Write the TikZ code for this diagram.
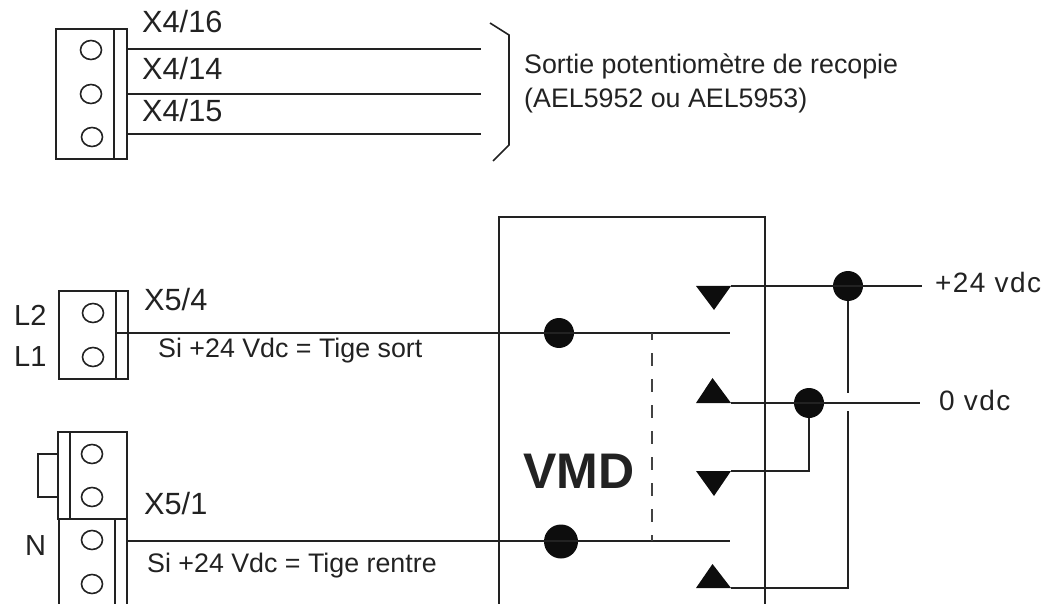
\documentclass[tikz,border=0pt]{standalone}
\usepackage{fontspec}
\setmainfont{Liberation Sans}
\newfontfamily\spaced[LetterSpace=5]{Liberation Sans}
\definecolor{ink}{HTML}{222222}
\tikzset{
  wire/.style={draw=ink,line width=1.6pt},
  screw/.style={draw=ink,line width=1.6pt,ellipse,minimum width=21pt,minimum height=19pt,inner sep=0pt},
  dot/.style={fill=black!95,circle,inner sep=0pt},
  big/.style={inner sep=0pt,anchor=base west,text=ink,font=\fontsize{30.7}{30.7}\selectfont},
  small/.style={inner sep=0pt,anchor=base west,text=ink,font=\fontsize{26.8}{26.8}\selectfont},
  side/.style={inner sep=0pt,anchor=base west,text=ink,font=\fontsize{29}{29}\selectfont},
  rail/.style={inner sep=0pt,anchor=base west,text=ink,font=\spaced\fontsize{28}{28}\selectfont}
}
\usetikzlibrary{shapes.geometric}
\begin{document}
\begin{tikzpicture}[x=1pt,y=-1pt]
      \useasboundingbox (0,0) rectangle (1050,604);
      % terminal blocks
      \draw[wire] (56,29) rectangle (127,159);
      \draw[wire] (114,29) -- (114,159);
      \draw[wire] (59,291) rectangle (128,379);
      \draw[wire] (116,291) -- (116,379);
      \draw[wire] (58,432) rectangle (127,519);
      \draw[wire] (70,432) -- (70,519);
      \draw[wire] (59,604) -- (59,519) -- (127,519) -- (127,604);
      \draw[wire] (115,519) -- (115,604);
      \draw[wire] (58,454) -- (38,454) -- (38,497) -- (58,497);
      \draw
        (91,50) node[screw] (s1){}
        (91,94) node[screw] (s2){}
        (92,137) node[screw] (s3){}
        (93,313) node[screw] (s4){}
        (93,357) node[screw] (s5){}
        (92,454) node[screw] (s6){}
        (92,497) node[screw] (s7){}
        (92,540) node[screw] (s8){}
        (92,584) node[screw] (s9){};
      % box
      \draw[wire] (499,604) -- (499,217) -- (765,217) -- (765,604);
      \coordinate (a0) at (127,49);
      \coordinate (a1) at (481,49);
      \coordinate (b0) at (127,94);
      \coordinate (b1) at (481,94);
      \coordinate (c0) at (127,134);
      \coordinate (c1) at (481,134);
      \coordinate (d0) at (116,333);
      \coordinate (d1) at (730,333);
      \coordinate (e0) at (127,541);
      \coordinate (e1) at (730,541);
      \coordinate (f0) at (652,333);
      \coordinate (f1) at (652,541);
      \coordinate (p0) at (731,286);
      \coordinate (p1) at (922,286);
      \coordinate (n0) at (731,403);
      \coordinate (n1) at (920,403);
      \coordinate (q0) at (731,471);
      \coordinate (r0) at (731,588);
      \coordinate (g0) at (848,393);
      \coordinate (g1) at (848,411);
      \coordinate (g2) at (848,588);
      \coordinate (h0) at (809,471);
      \node[dot,minimum size=30pt] (dotd) at (559,333) {};
      \node[dot,minimum size=34pt] (dote) at (561,541.5) {};
      \node[dot,minimum size=30pt] (dotp) at (848,286) {};
      \node[dot,minimum size=30pt] (dotn) at (809,403) {};
      \begin{scope}[wire]
        \draw (a0) to (a1);
        \draw (b0) to (b1);
        \draw (c0) to (c1);
        \draw (d0) to (d1);
        \draw (e0) to (e1);
        \draw[draw=ink!85,line width=2.4pt,dash pattern=on 13pt off 13pt,dash phase=6pt] (f0) to (f1);
        \draw (p0) to (p1);
        \draw (n0) to (n1);
        \draw (dotp) to (g0);
        \draw (g1) to (g2) to (r0);
        \draw (dotn) to (h0) to (q0);
        \draw (490,23) -- (509,35) -- (509,145) -- (493,161);
      \end{scope}
      % contacts
      \fill[black!95] (696,286) -- (731,286) -- (714,310) -- cycle;
      \fill[black!95] (696,403) -- (731,403) -- (712.5,378) -- cycle;
      \fill[black!95] (696,471) -- (731,471) -- (714,496) -- cycle;
      \fill[black!95] (696,588) -- (731,588) -- (712.5,564) -- cycle;
      % labels
      \node[big] (x416) at (142,33) {X4/16};
      \node[big] (x414) at (142,80) {X4/14};
      \node[big] (x415) at (142,122) {X4/15};
      \node[big] (x54) at (144,310) {X5/4};
      \node[big] (x51) at (144,514) {X5/1};
      \node[side] (l2) at (14,325) {L2};
      \node[side] (l1) at (14,366) {L1};
      \node[side] (nn) at (25,555) {N};
      \node[small] (sortie) at (524,74) {Sortie potentiomètre de recopie};
      \node[small] (ael) at (524,108) {(AEL5952 ou AEL5953)};
      \node[small] (sisort) at (158,357) {Si +24 Vdc = Tige sort};
      \node[small] (sirentre) at (147,572) {Si +24 Vdc = Tige rentre};
      \node[rail] (plus) at (935,292) {+24 vdc};
      \node[rail] (zero) at (939,410) {0 vdc};
      \node[inner sep=0pt,anchor=base west,text=ink,font=\fontsize{50}{50}\selectfont\bfseries] (vmd) at (523,488) {VMD};
    \end{tikzpicture}
\end{document}
